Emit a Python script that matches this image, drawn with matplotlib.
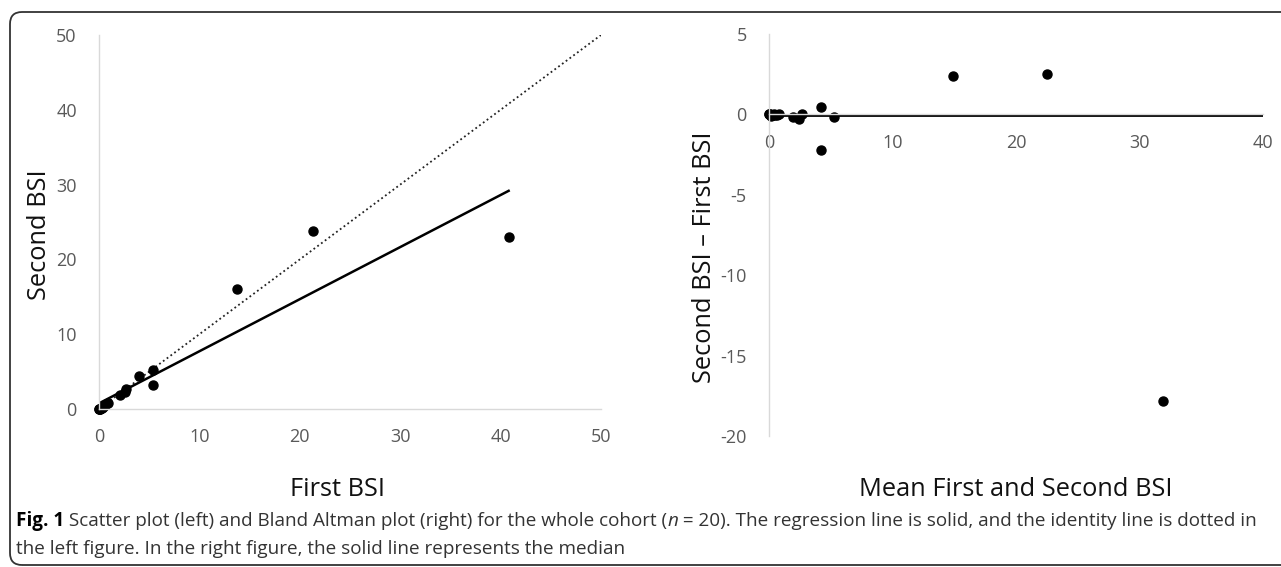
import matplotlib

matplotlib.use("Agg")
import matplotlib.pyplot as plt
import numpy as np
from matplotlib.patches import FancyBboxPatch
from matplotlib.transforms import offset_copy

plt.rcParams["font.family"] = ["Open Sans", "DejaVu Sans"]
plt.rcParams["axes.unicode_minus"] = False

# BSI values (n = 20)
first_bsi = np.array([0.0, 0.0, 0.05, 0.1, 0.15, 0.25, 0.35, 0.4, 0.5, 0.7,
                      0.85, 2.05, 2.55, 2.7, 4.0, 5.35, 5.35, 13.7, 21.3, 40.8])
second_bsi = np.array([0.0, 0.0, 0.05, 0.05, 0.1, 0.15, 0.3, 0.4, 0.45, 0.65,
                       0.85, 1.9, 2.25, 2.7, 4.45, 5.2, 3.15, 16.1, 23.8, 23.0])

left_ticks = [0, 10, 20, 30, 40, 50]
right_xticks = [0, 10, 20, 30, 40]
right_yticks = [5, 0, -5, -10, -15, -20]

tick_color = "#595959"
axis_color = "#d9d9d9"
tick_font = 13
title_font = 18.3
cap_font = 13.6

fig = plt.figure(figsize=(12.81, 5.67), dpi=100)

# ---- left: scatter with regression and identity line
ax = fig.add_axes([99 / 1281, 1 - 409 / 567, 502 / 1281, 374 / 567])
slope, intercept = np.polyfit(first_bsi, second_bsi, 1)
xr = np.array([0, first_bsi.max()])
ax.plot([0, 50], [0, 50], color="#222222", lw=1.3, ls=(0, (1, 1.6)))
ax.plot(xr, intercept + slope * xr, color="black", lw=1.8)
ax.plot(first_bsi, second_bsi, "o", color="black", ms=6.5, clip_on=False)
ax.set_xlim(0, 50)
ax.set_ylim(0, 50)
ax.set_xticks(left_ticks)
ax.set_yticks(left_ticks)

# ---- right: Bland Altman
mean_bsi = (first_bsi + second_bsi) / 2
diff_bsi = second_bsi - first_bsi
median_diff = np.median(diff_bsi)

bx = fig.add_axes([769 / 1281, 1 - 436 / 567, 494 / 1281, 402 / 567])
bx.plot([0, 40], [median_diff, median_diff], color="black", lw=2.0)
bx.plot(mean_bsi, diff_bsi, "o", color="black", ms=6.5, clip_on=False)
bx.set_xlim(0, 40)
bx.set_ylim(-20, 5)
bx.set_xticks(right_xticks)
bx.set_yticks(right_yticks)
bx.spines["bottom"].set_position(("data", 0))

for a in (ax, bx):
    for side in ("top", "right"):
        a.spines[side].set_visible(False)
    for side in ("left", "bottom"):
        a.spines[side].set_color(axis_color)
        a.spines[side].set_linewidth(1.0)
    a.tick_params(length=0, labelsize=tick_font, labelcolor=tick_color)
    a.tick_params(axis="y", pad=16)
    a.tick_params(axis="x", pad=14)
    a.set_facecolor("none")

# axis titles
fig.text(40 / 1281, 1 - 235 / 567, "Second BSI", rotation=90, fontsize=title_font,
         ha="center", va="center", color="#111111")
fig.text(338 / 1281, 1 - 490 / 567, "First BSI", fontsize=title_font,
         ha="center", va="center", color="#111111")
fig.text(705 / 1281, 1 - 257 / 567, "Second BSI \u2013 First BSI", rotation=90,
         fontsize=title_font, ha="center", va="center", color="#111111")
fig.text(1016 / 1281, 1 - 490 / 567, "Mean First and Second BSI", fontsize=title_font,
         ha="center", va="center", color="#111111")

# caption, written piece by piece so bold and italic parts can follow each other
caption_parts = [
    ("Fig. 1", "bold", "normal", "black"),
    (" Scatter plot (left) and Bland Altman plot (right) for the whole cohort (",
     "normal", "normal", "#333333"),
    ("n", "normal", "italic", "#333333"),
    (" = 20). The regression line is solid, and the identity line is dotted in",
     "normal", "normal", "#333333"),
]
renderer = fig.canvas.get_renderer()
trans = fig.transFigure
x0, y0 = 16 / 1281, 1 - 521 / 567
dx = 0
for txt, weight, style, col in caption_parts:
    t = fig.text(x0, y0, txt, fontsize=cap_font, fontweight=weight, fontstyle=style,
                 color=col, ha="left", va="center",
                 transform=offset_copy(trans, fig=fig, x=dx, y=0, units="dots"))
    dx += t.get_window_extent(renderer).width
fig.text(x0, 1 - 549 / 567,
         "the left figure. In the right figure, the solid line represents the median",
         fontsize=cap_font, ha="left", va="center", color="#333333")

# frame around the figure
frame = FancyBboxPatch((10, 2), 1320, 553, boxstyle="round,pad=0,rounding_size=12",
                       transform=None, fill=False, edgecolor="#333333", lw=1.3)
fig.add_artist(frame)

fig.savefig("out.png", dpi=100, facecolor="white")
